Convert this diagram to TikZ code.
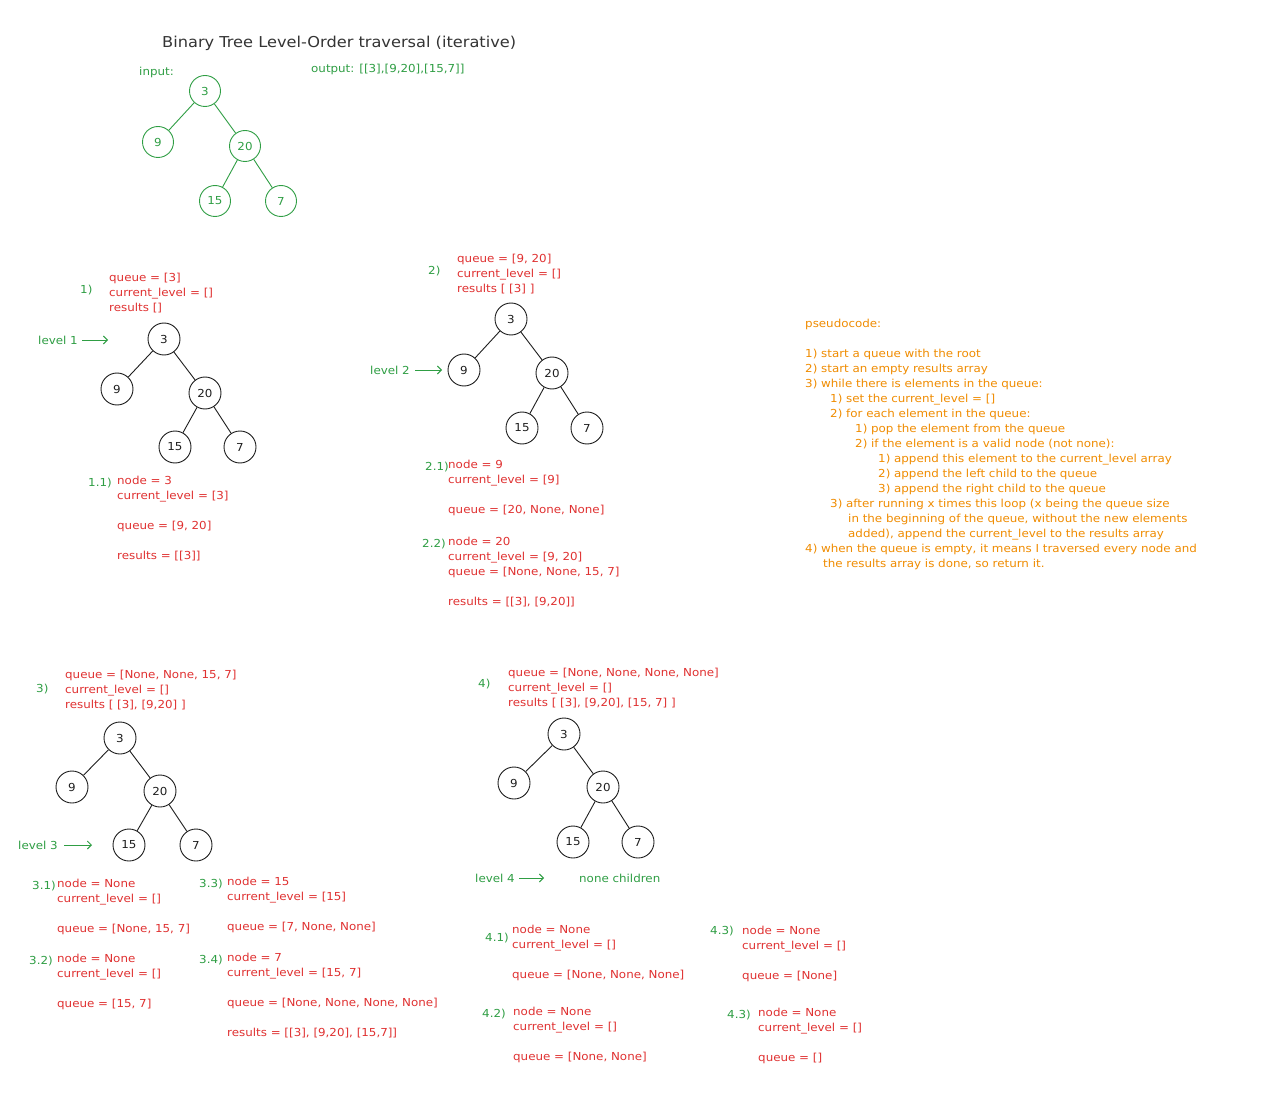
\documentclass[tikz,border=0pt]{standalone}
\usepackage{fontspec}
\setmainfont{DejaVu Sans}[FakeStretch=1.08]
\usetikzlibrary{arrows.meta}
\definecolor{inkred}{RGB}{224,49,49}
\definecolor{inkgreen}{RGB}{47,158,68}
\definecolor{inkorange}{RGB}{240,140,0}
\definecolor{ink}{RGB}{30,30,30}
\definecolor{inktitle}{RGB}{52,52,52}

\begin{document}
\begin{tikzpicture}[x=1pt,y=-1pt,
  % every text block is placed by the baseline of its first line
  txt/.style={anchor=north west, yshift=10.5pt, inner sep=0pt, align=left,
    font=\fontsize{11}{15}\selectfont, execute at begin node=\strut},
  redtxt/.style={txt, text=inkred},
  greentxt/.style={txt, text=inkgreen},
  orangetxt/.style={txt, text=inkorange},
  treenode/.style={circle, draw=ink, line width=0.9pt, minimum size=32pt, inner sep=0pt,
    text=ink, font=\fontsize{11}{13}\selectfont},
  greennode/.style={treenode, draw=inkgreen, text=inkgreen, minimum size=31pt},
  edge/.style={draw=ink, line width=0.9pt},
  greenedge/.style={draw=inkgreen, line width=0.9pt},
  lvlarrow/.style={draw=inkgreen, line width=0.9pt, -{Straight Barb[length=4pt,width=8pt]}}
]
\fill[white] (0,0) rectangle (1280,1099);
\useasboundingbox (0,0) rectangle (1280,1099);

% ---------- title and input tree ----------
\node[anchor=base west, inner sep=0pt, text=inktitle, font=\fontsize{15}{18}\selectfont] (title) at (162,48)
  {Binary Tree Level-Order traversal (iterative)};
\node[greentxt] (inlbl) at (139,75) {input:};
\node[greentxt] (outlbl) at (311,72) {output: [[3],[9,20],[15,7]]};

\node[greennode] (i3)  at (205,91)  {3};
\node[greennode] (i9)  at (158,142) {9};
\node[greennode] (i20) at (245,146) {20};
\node[greennode] (i15) at (215,201) {15};
\node[greennode] (i7)  at (281,201) {7};
\draw[greenedge] (i3) -- (i9);
\draw[greenedge] (i3) -- (i20);
\draw[greenedge] (i20) -- (i15);
\draw[greenedge] (i20) -- (i7);

% ---------- step 1 ----------
\node[greentxt] (n1) at (80,293) {1)};
\node[redtxt] (h1) at (109,283) {queue = [3]\\current\_level = []\\results []};
\node[greentxt] (lv1) at (38,344) {level 1};
\coordinate (lv1a) at (82,340);
\coordinate (lv1b) at (108,340);
\draw[lvlarrow] (lv1a) -- (lv1b);

\node[treenode] (a3)  at (164,339) {3};
\node[treenode] (a9)  at (117,389) {9};
\node[treenode] (a20) at (205,393) {20};
\node[treenode] (a15) at (175,447) {15};
\node[treenode] (a7)  at (240,447) {7};
\draw[edge] (a3) -- (a9);
\draw[edge] (a3) -- (a20);
\draw[edge] (a20) -- (a15);
\draw[edge] (a20) -- (a7);

\node[greentxt] (n11) at (88,486) {1.1)};
\node[redtxt] (b11) at (117,486)
  {node = 3\\current\_level = [3]\\[15pt]queue = [9, 20]\\[15pt]results = [[3]]};

% ---------- step 2 ----------
\node[greentxt] (n2) at (428,274) {2)};
\node[redtxt] (h2) at (457,264) {queue = [9, 20]\\current\_level = []\\results [ [3] ]};
\node[greentxt] (lv2) at (370,374) {level 2};
\coordinate (lv2a) at (415,370);
\coordinate (lv2b) at (442,370);
\draw[lvlarrow] (lv2a) -- (lv2b);

\node[treenode] (c3)  at (511,319) {3};
\node[treenode] (c9)  at (464,370) {9};
\node[treenode] (c20) at (552,373) {20};
\node[treenode] (c15) at (522,428) {15};
\node[treenode] (c7)  at (587,428) {7};
\draw[edge] (c3) -- (c9);
\draw[edge] (c3) -- (c20);
\draw[edge] (c20) -- (c15);
\draw[edge] (c20) -- (c7);

\node[greentxt] (n21) at (425,470) {2.1)};
\node[redtxt] (b21) at (448,470)
  {node = 9\\current\_level = [9]\\[15pt]queue = [20, None, None]};
\node[greentxt] (n22) at (422,547) {2.2)};
\node[redtxt] (b22) at (448,547)
  {node = 20\\current\_level = [9, 20]\\queue = [None, None, 15, 7]\\[15pt]results = [[3], [9,20]]};

% ---------- pseudocode ----------
\node[orangetxt] (pseudo) at (805,329)
  {pseudocode:\\[15pt]
   1) start a queue with the root\\
   2) start an empty results array\\
   3) while there is elements in the queue:\\
   \hspace*{25pt}1) set the current\_level = []\\
   \hspace*{25pt}2) for each element in the queue:\\
   \hspace*{50pt}1) pop the element from the queue\\
   \hspace*{50pt}2) if the element is a valid node (not none):\\
   \hspace*{73pt}1) append this element to the current\_level array\\
   \hspace*{73pt}2) append the left child to the queue\\
   \hspace*{73pt}3) append the right child to the queue\\
   \hspace*{25pt}3) after running x times this loop (x being the queue size\\
   \hspace*{43pt}in the beginning of the queue, without the new elements\\
   \hspace*{43pt}added), append the current\_level to the results array\\
   4) when the queue is empty, it means I traversed every node and\\
   \hspace*{18pt}the results array is done, so return it.};

% ---------- step 3 ----------
\node[greentxt] (n3) at (36,692) {3)};
\node[redtxt] (h3) at (65,680) {queue = [None, None, 15, 7]\\current\_level = []\\results [ [3], [9,20] ]};
\node[greentxt] (lv3) at (18,849) {level 3};
\coordinate (lv3a) at (64,845);
\coordinate (lv3b) at (92,845);
\draw[lvlarrow] (lv3a) -- (lv3b);

\node[treenode] (d3)  at (120,738) {3};
\node[treenode] (d9)  at (72,787)  {9};
\node[treenode] (d20) at (160,791) {20};
\node[treenode] (d15) at (129,845) {15};
\node[treenode] (d7)  at (196,845) {7};
\draw[edge] (d3) -- (d9);
\draw[edge] (d3) -- (d20);
\draw[edge] (d20) -- (d15);
\draw[edge] (d20) -- (d7);

\node[greentxt] (n31) at (32,889) {3.1)};
\node[redtxt] (b31) at (57,889)
  {node = None\\current\_level = []\\[15pt]queue = [None, 15, 7]};
\node[greentxt] (n32) at (29,964) {3.2)};
\node[redtxt] (b32) at (57,964)
  {node = None\\current\_level = []\\[15pt]queue = [15, 7]};
\node[greentxt] (n33) at (199,887) {3.3)};
\node[redtxt] (b33) at (227,887)
  {node = 15\\current\_level = [15]\\[15pt]queue = [7, None, None]};
\node[greentxt] (n34) at (199,963) {3.4)};
\node[redtxt] (b34) at (227,963)
  {node = 7\\current\_level = [15, 7]\\[15pt]queue = [None, None, None, None]\\[15pt]results = [[3], [9,20], [15,7]]};

% ---------- step 4 ----------
\node[greentxt] (n4) at (478,687) {4)};
\node[redtxt] (h4) at (508,678) {queue = [None, None, None, None]\\current\_level = []\\results [ [3], [9,20], [15, 7] ]};

\node[treenode] (e3)  at (564,734) {3};
\node[treenode] (e9)  at (514,783) {9};
\node[treenode] (e20) at (603,787) {20};
\node[treenode] (e15) at (573,842) {15};
\node[treenode] (e7)  at (638,842) {7};
\draw[edge] (e3) -- (e9);
\draw[edge] (e3) -- (e20);
\draw[edge] (e20) -- (e15);
\draw[edge] (e20) -- (e7);

\node[greentxt] (lv4) at (475,882) {level 4};
\coordinate (lv4a) at (519,878);
\coordinate (lv4b) at (544,878);
\draw[lvlarrow] (lv4a) -- (lv4b);
\node[greentxt] (none) at (579,882) {none children};

\node[greentxt] (n41) at (485,941) {4.1)};
\node[redtxt] (b41) at (512,935)
  {node = None\\current\_level = []\\[15pt]queue = [None, None, None]};
\node[greentxt] (n42) at (482,1017) {4.2)};
\node[redtxt] (b42) at (513,1017)
  {node = None\\current\_level = []\\[15pt]queue = [None, None]};
\node[greentxt] (n43) at (710,934) {4.3)};
\node[redtxt] (b43) at (742,936)
  {node = None\\current\_level = []\\[15pt]queue = [None]};
\node[greentxt] (n44) at (727,1018) {4.3)};
\node[redtxt] (b44) at (758,1018)
  {node = None\\current\_level = []\\[15pt]queue = []};
\end{tikzpicture}
\end{document}
